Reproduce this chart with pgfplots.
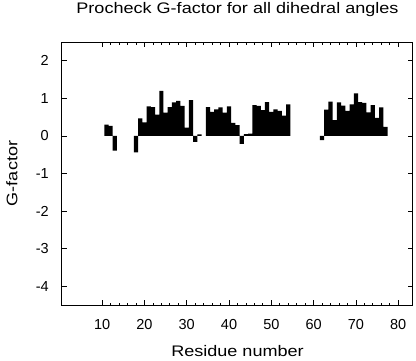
\documentclass[border=0pt]{standalone}
\usepackage{fontspec}
\setmainfont{Liberation Sans}
\newfontfamily\widefont[FakeStretch=1.18]{Liberation Sans}
\usepackage{pgfplots}
\pgfplotsset{compat=1.18}
\usepackage{pgfplotstable}
\pgfplotstableread{
res g
11 0.30
12 0.27
13 -0.39
18 -0.44
19 0.47
20 0.36
21 0.79
22 0.77
23 0.57
24 1.20
25 0.62
26 0.77
27 0.89
28 0.93
29 0.80
30 0.22
31 0.95
32 -0.16
33 0.04
35 0.77
36 0.64
37 0.71
38 0.76
39 0.62
40 0.79
41 0.35
42 0.29
43 -0.21
44 0.05
45 0.06
46 0.82
47 0.80
48 0.69
49 0.90
50 0.64
51 0.71
52 0.67
53 0.54
54 0.84
62 -0.11
63 0.70
64 0.91
65 0.42
66 0.89
67 0.81
68 0.67
69 0.84
70 1.13
71 0.90
72 0.88
73 0.63
74 0.82
75 0.48
76 0.76
77 0.24
}\gdata
\begin{document}
\begin{tikzpicture}
\useasboundingbox (-62pt,-55pt) rectangle (354pt,305pt);
\begin{axis}[
  at={(0pt,0pt)}, anchor=south west,
  scale only axis, width=351pt, height=263pt,
  xmin=0.5, xmax=83.5, ymin=-4.5, ymax=2.5,
  xtick={10,20,...,80}, minor x tick num=4,
  ytick={-4,-3,...,2},
  tick align=inside, xtick pos=both, ytick pos=both,
  major tick length=5pt, minor tick length=2.5pt,
  every tick/.style={black, line width=0.8pt},
  axis line style={line width=1pt},
  /pgf/number format/assume math mode=true,
  ticklabel style={font=\fontsize{14.5}{16}\selectfont, inner sep=0pt},
  xticklabel style={anchor=base, yshift=-24pt},
  yticklabel style={anchor=east, xshift=-13pt},
  title={Procheck G-factor for all dihedral angles},
  title style={at={(axis description cs:0.5,1.0837)}, anchor=base, font=\widefont\fontsize{15.3}{18}\selectfont, inner sep=0pt},
  xlabel={Residue number},
  xlabel style={at={(axis description cs:0.5,-0.1966)}, anchor=base, font=\widefont\fontsize{15.3}{18}\selectfont, inner sep=0pt},
  ylabel={G-factor},
  ylabel style={at={(axis description cs:-0.1274,0.5)}, anchor=base, rotate=0, font=\widefont\fontsize{15.3}{18}\selectfont, inner sep=0pt},
]
\addplot[ybar, bar width=1, bar shift=0, fill=black, draw=none] table[x=res, y=g] {\gdata};
\end{axis}
\end{tikzpicture}
\end{document}
